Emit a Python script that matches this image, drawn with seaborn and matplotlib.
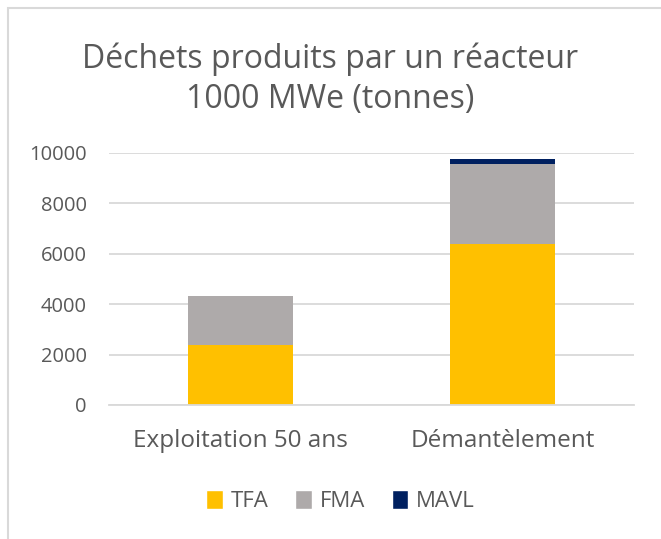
import numpy as np
import pandas as pd
import matplotlib.pyplot as plt
import seaborn as sns
from matplotlib.patches import Patch, Rectangle

# Data
categories = ["Exploitation 50 ans", "Démantèlement"]
tfa = [2380, 6400]
fma = [1950, 3180]
mavl = [8, 180]

series_names = ["TFA", "FMA", "MAVL"]
colors = {"TFA": "#FFC000", "FMA": "#AEAAAA", "MAVL": "#002060"}
yticks = [0, 2000, 4000, 6000, 8000, 10000]

df = pd.DataFrame({"cat": categories, "TFA": tfa, "FMA": fma, "MAVL": mavl})
df["top_fma"] = df["TFA"] + df["FMA"]
df["top_mavl"] = df["top_fma"] + df["MAVL"]

sns.set_style("white")
plt.rcParams["font.family"] = ["Open Sans", "DejaVu Sans"]

fig = plt.figure(figsize=(6.61, 5.39), dpi=100)
ax = fig.add_axes([109 / 661, 1 - 405 / 539, 525 / 661, 252 / 539])

# chart border (top and left visible, rest runs off the image)
fig.patches.append(Rectangle((8 / 661, -0.05), 1.0, 1.05 - 8 / 539, transform=fig.transFigure,
                             fill=False, edgecolor="#D9D9D9", linewidth=1.5))

# stacked bars: draw cumulative totals from the top down
bar_w = 0.40
for col, name in [("top_mavl", "MAVL"), ("top_fma", "FMA"), ("TFA", "TFA")]:
    sns.barplot(data=df, x="cat", y=col, color=colors[name], width=bar_w,
                saturation=1, linewidth=0, ax=ax)

ax.set_ylim(0, 10000)
ax.set_yticks(yticks)
ax.set_yticklabels([str(v) for v in yticks])
ax.yaxis.grid(True, color="#D9D9D9", linewidth=1.3)
ax.set_axisbelow(True)
for s in ["top", "right", "left"]:
    ax.spines[s].set_visible(False)
ax.spines["bottom"].set_color("#D9D9D9")
ax.spines["bottom"].set_linewidth(1.3)
ax.tick_params(axis="y", length=0, labelsize=14.5, labelcolor="#595959", pad=16)
ax.tick_params(axis="x", length=0, labelsize=17.5, labelcolor="#595959", pad=17)
ax.set_xlabel("")
ax.set_ylabel("")

fig.text(0.5, 1 - 79 / 539, "Déchets produits par un réacteur\n1000 MWe (tonnes)",
         ha="center", va="center", fontsize=23, color="#595959", linespacing=1.3)

handles = [Patch(facecolor=colors[n], label=n) for n in series_names]
fig.legend(handles=handles, loc="center", bbox_to_anchor=(0.515, 1 - 501 / 539), ncol=3,
           frameon=False, fontsize=16, labelcolor="#595959", handlelength=0.75, handleheight=0.9,
           handletextpad=0.35, columnspacing=1.2)

fig.savefig("out.png", dpi=100)
